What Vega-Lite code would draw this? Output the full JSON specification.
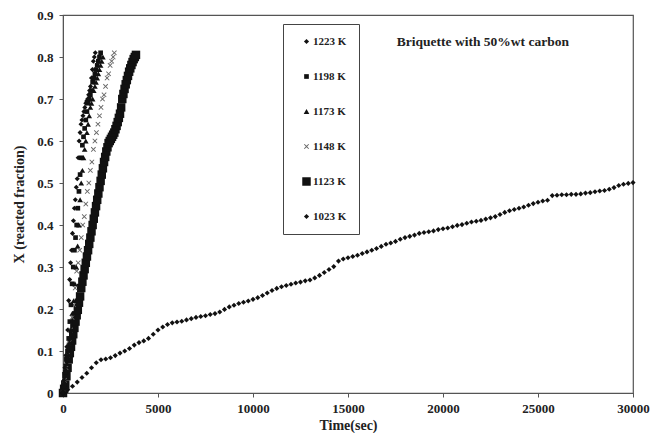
{
  "$schema": "https://vega.github.io/schema/vega-lite/v6.json",
  "autosize": "none",
  "width": 570,
  "height": 378,
  "padding": {"left": 63, "top": 15, "right": 21, "bottom": 40},
  "background": "white",
  "config": {
    "view": {"stroke": "#555", "strokeWidth": 1.2},
    "font": "Liberation Serif",
    "axis": {"grid": false, "domainColor": "#555", "tickColor": "#555", "labelFont": "Liberation Serif", "labelFontWeight": "bold", "labelFontSize": 13, "labelColor": "#222", "titleFont": "Liberation Serif", "titleFontWeight": "bold", "titleFontSize": 14, "titleColor": "#222", "tickSize": 4}
  },
  "datasets": {
    "pts": [
      {"T":"1023 K","t":0,"x":0.000},{"T":"1023 K","t":250,"x":0.008},{"T":"1023 K","t":500,"x":0.016},{"T":"1023 K","t":750,"x":0.026},{"T":"1023 K","t":1000,"x":0.037},{"T":"1023 K","t":1250,"x":0.047},{"T":"1023 K","t":1500,"x":0.060},{"T":"1023 K","t":1750,"x":0.072},{"T":"1023 K","t":2000,"x":0.079},{"T":"1023 K","t":2250,"x":0.081},{"T":"1023 K","t":2500,"x":0.084},{"T":"1023 K","t":2750,"x":0.089},{"T":"1023 K","t":3000,"x":0.095},{"T":"1023 K","t":3250,"x":0.100},{"T":"1023 K","t":3500,"x":0.106},{"T":"1023 K","t":3750,"x":0.114},{"T":"1023 K","t":4000,"x":0.120},{"T":"1023 K","t":4250,"x":0.124},{"T":"1023 K","t":4500,"x":0.130},{"T":"1023 K","t":4750,"x":0.140},{"T":"1023 K","t":5000,"x":0.150},{"T":"1023 K","t":5250,"x":0.157},{"T":"1023 K","t":5500,"x":0.163},{"T":"1023 K","t":5750,"x":0.167},{"T":"1023 K","t":6000,"x":0.169},{"T":"1023 K","t":6250,"x":0.171},{"T":"1023 K","t":6500,"x":0.174},{"T":"1023 K","t":6750,"x":0.177},{"T":"1023 K","t":7000,"x":0.180},{"T":"1023 K","t":7250,"x":0.182},{"T":"1023 K","t":7500,"x":0.184},{"T":"1023 K","t":7750,"x":0.187},{"T":"1023 K","t":8000,"x":0.189},{"T":"1023 K","t":8250,"x":0.193},{"T":"1023 K","t":8500,"x":0.199},{"T":"1023 K","t":8750,"x":0.205},{"T":"1023 K","t":9000,"x":0.209},{"T":"1023 K","t":9250,"x":0.213},{"T":"1023 K","t":9500,"x":0.216},{"T":"1023 K","t":9750,"x":0.219},{"T":"1023 K","t":10000,"x":0.223},{"T":"1023 K","t":10250,"x":0.227},{"T":"1023 K","t":10500,"x":0.232},{"T":"1023 K","t":10750,"x":0.238},{"T":"1023 K","t":11000,"x":0.244},{"T":"1023 K","t":11250,"x":0.249},{"T":"1023 K","t":11500,"x":0.253},{"T":"1023 K","t":11750,"x":0.256},{"T":"1023 K","t":12000,"x":0.259},{"T":"1023 K","t":12250,"x":0.262},{"T":"1023 K","t":12500,"x":0.264},{"T":"1023 K","t":12750,"x":0.267},{"T":"1023 K","t":13000,"x":0.269},{"T":"1023 K","t":13250,"x":0.274},{"T":"1023 K","t":13500,"x":0.280},{"T":"1023 K","t":13750,"x":0.287},{"T":"1023 K","t":14000,"x":0.294},{"T":"1023 K","t":14250,"x":0.301},{"T":"1023 K","t":14500,"x":0.314},{"T":"1023 K","t":14750,"x":0.319},{"T":"1023 K","t":15000,"x":0.322},{"T":"1023 K","t":15250,"x":0.325},{"T":"1023 K","t":15500,"x":0.328},{"T":"1023 K","t":15750,"x":0.332},{"T":"1023 K","t":16000,"x":0.336},{"T":"1023 K","t":16250,"x":0.340},{"T":"1023 K","t":16500,"x":0.344},{"T":"1023 K","t":16750,"x":0.349},{"T":"1023 K","t":17000,"x":0.354},{"T":"1023 K","t":17250,"x":0.357},{"T":"1023 K","t":17500,"x":0.361},{"T":"1023 K","t":17750,"x":0.366},{"T":"1023 K","t":18000,"x":0.370},{"T":"1023 K","t":18250,"x":0.373},{"T":"1023 K","t":18500,"x":0.376},{"T":"1023 K","t":18750,"x":0.380},{"T":"1023 K","t":19000,"x":0.382},{"T":"1023 K","t":19250,"x":0.384},{"T":"1023 K","t":19500,"x":0.386},{"T":"1023 K","t":19750,"x":0.389},{"T":"1023 K","t":20000,"x":0.391},{"T":"1023 K","t":20250,"x":0.393},{"T":"1023 K","t":20500,"x":0.396},{"T":"1023 K","t":20750,"x":0.399},{"T":"1023 K","t":21000,"x":0.401},{"T":"1023 K","t":21250,"x":0.404},{"T":"1023 K","t":21500,"x":0.407},{"T":"1023 K","t":21750,"x":0.409},{"T":"1023 K","t":22000,"x":0.411},{"T":"1023 K","t":22250,"x":0.414},{"T":"1023 K","t":22500,"x":0.417},{"T":"1023 K","t":22750,"x":0.420},{"T":"1023 K","t":23000,"x":0.425},{"T":"1023 K","t":23250,"x":0.430},{"T":"1023 K","t":23500,"x":0.434},{"T":"1023 K","t":23750,"x":0.437},{"T":"1023 K","t":24000,"x":0.440},{"T":"1023 K","t":24250,"x":0.443},{"T":"1023 K","t":24500,"x":0.447},{"T":"1023 K","t":24750,"x":0.451},{"T":"1023 K","t":25000,"x":0.454},{"T":"1023 K","t":25250,"x":0.457},{"T":"1023 K","t":25500,"x":0.459},{"T":"1023 K","t":25750,"x":0.470},{"T":"1023 K","t":26000,"x":0.471},{"T":"1023 K","t":26250,"x":0.472},{"T":"1023 K","t":26500,"x":0.472},{"T":"1023 K","t":26750,"x":0.473},{"T":"1023 K","t":27000,"x":0.473},{"T":"1023 K","t":27250,"x":0.474},{"T":"1023 K","t":27500,"x":0.476},{"T":"1023 K","t":27750,"x":0.477},{"T":"1023 K","t":28000,"x":0.479},{"T":"1023 K","t":28250,"x":0.481},{"T":"1023 K","t":28500,"x":0.482},{"T":"1023 K","t":28750,"x":0.485},{"T":"1023 K","t":29000,"x":0.489},{"T":"1023 K","t":29250,"x":0.494},{"T":"1023 K","t":29500,"x":0.497},{"T":"1023 K","t":29750,"x":0.499},{"T":"1023 K","t":30000,"x":0.501},

      {"T":"1123 K","t":0,"x":0.0},{"T":"1123 K","t":60,"x":0.01},{"T":"1123 K","t":120,"x":0.02},{"T":"1123 K","t":180,"x":0.04},{"T":"1123 K","t":240,"x":0.06},{"T":"1123 K","t":300,"x":0.08},{"T":"1123 K","t":360,"x":0.095},{"T":"1123 K","t":420,"x":0.11},{"T":"1123 K","t":480,"x":0.125},{"T":"1123 K","t":540,"x":0.14},{"T":"1123 K","t":600,"x":0.155},{"T":"1123 K","t":660,"x":0.17},{"T":"1123 K","t":720,"x":0.185},{"T":"1123 K","t":780,"x":0.198},{"T":"1123 K","t":840,"x":0.215},{"T":"1123 K","t":900,"x":0.23},{"T":"1123 K","t":960,"x":0.25},{"T":"1123 K","t":1020,"x":0.265},{"T":"1123 K","t":1080,"x":0.28},{"T":"1123 K","t":1140,"x":0.295},{"T":"1123 K","t":1200,"x":0.31},{"T":"1123 K","t":1260,"x":0.325},{"T":"1123 K","t":1320,"x":0.34},{"T":"1123 K","t":1380,"x":0.355},{"T":"1123 K","t":1440,"x":0.37},{"T":"1123 K","t":1500,"x":0.385},{"T":"1123 K","t":1560,"x":0.40},{"T":"1123 K","t":1620,"x":0.415},{"T":"1123 K","t":1680,"x":0.43},{"T":"1123 K","t":1740,"x":0.445},{"T":"1123 K","t":1800,"x":0.46},{"T":"1123 K","t":1860,"x":0.475},{"T":"1123 K","t":1920,"x":0.49},{"T":"1123 K","t":1980,"x":0.505},{"T":"1123 K","t":2040,"x":0.52},{"T":"1123 K","t":2100,"x":0.535},{"T":"1123 K","t":2160,"x":0.55},{"T":"1123 K","t":2220,"x":0.562},{"T":"1123 K","t":2280,"x":0.575},{"T":"1123 K","t":2340,"x":0.585},{"T":"1123 K","t":2400,"x":0.595},{"T":"1123 K","t":2460,"x":0.60},{"T":"1123 K","t":2520,"x":0.605},{"T":"1123 K","t":2580,"x":0.61},{"T":"1123 K","t":2640,"x":0.615},{"T":"1123 K","t":2700,"x":0.62},{"T":"1123 K","t":2760,"x":0.628},{"T":"1123 K","t":2820,"x":0.636},{"T":"1123 K","t":2880,"x":0.645},{"T":"1123 K","t":2940,"x":0.655},{"T":"1123 K","t":3000,"x":0.665},{"T":"1123 K","t":3060,"x":0.68},{"T":"1123 K","t":3120,"x":0.70},{"T":"1123 K","t":3180,"x":0.712},{"T":"1123 K","t":3240,"x":0.724},{"T":"1123 K","t":3300,"x":0.735},{"T":"1123 K","t":3360,"x":0.745},{"T":"1123 K","t":3420,"x":0.755},{"T":"1123 K","t":3480,"x":0.765},{"T":"1123 K","t":3540,"x":0.773},{"T":"1123 K","t":3600,"x":0.781},{"T":"1123 K","t":3660,"x":0.788},{"T":"1123 K","t":3720,"x":0.795},{"T":"1123 K","t":3780,"x":0.80},{"T":"1123 K","t":3840,"x":0.805},

      {"T":"1148 K","t":0,"x":0},{"T":"1148 K","t":80,"x":0.03},{"T":"1148 K","t":160,"x":0.06},{"T":"1148 K","t":240,"x":0.09},{"T":"1148 K","t":320,"x":0.12},{"T":"1148 K","t":400,"x":0.15},{"T":"1148 K","t":480,"x":0.18},{"T":"1148 K","t":560,"x":0.21},{"T":"1148 K","t":640,"x":0.25},{"T":"1148 K","t":720,"x":0.29},{"T":"1148 K","t":800,"x":0.31},{"T":"1148 K","t":880,"x":0.34},{"T":"1148 K","t":960,"x":0.37},{"T":"1148 K","t":1040,"x":0.40},{"T":"1148 K","t":1120,"x":0.42},{"T":"1148 K","t":1200,"x":0.45},{"T":"1148 K","t":1280,"x":0.48},{"T":"1148 K","t":1360,"x":0.50},{"T":"1148 K","t":1440,"x":0.53},{"T":"1148 K","t":1520,"x":0.55},{"T":"1148 K","t":1600,"x":0.58},{"T":"1148 K","t":1680,"x":0.60},{"T":"1148 K","t":1760,"x":0.62},{"T":"1148 K","t":1840,"x":0.64},{"T":"1148 K","t":1920,"x":0.66},{"T":"1148 K","t":2000,"x":0.68},{"T":"1148 K","t":2080,"x":0.70},{"T":"1148 K","t":2160,"x":0.71},{"T":"1148 K","t":2240,"x":0.73},{"T":"1148 K","t":2320,"x":0.75},{"T":"1148 K","t":2400,"x":0.76},{"T":"1148 K","t":2480,"x":0.78},{"T":"1148 K","t":2560,"x":0.79},{"T":"1148 K","t":2640,"x":0.80},{"T":"1148 K","t":2700,"x":0.81},

      {"T":"1173 K","t":0,"x":0},{"T":"1173 K","t":70,"x":0.02},{"T":"1173 K","t":140,"x":0.05},{"T":"1173 K","t":210,"x":0.07},{"T":"1173 K","t":280,"x":0.09},{"T":"1173 K","t":350,"x":0.12},{"T":"1173 K","t":420,"x":0.15},{"T":"1173 K","t":490,"x":0.19},{"T":"1173 K","t":560,"x":0.22},{"T":"1173 K","t":630,"x":0.26},{"T":"1173 K","t":700,"x":0.30},{"T":"1173 K","t":770,"x":0.35},{"T":"1173 K","t":840,"x":0.40},{"T":"1173 K","t":900,"x":0.46},{"T":"1173 K","t":960,"x":0.50},{"T":"1173 K","t":1020,"x":0.53},{"T":"1173 K","t":1080,"x":0.56},{"T":"1173 K","t":1140,"x":0.58},{"T":"1173 K","t":1200,"x":0.60},{"T":"1173 K","t":1260,"x":0.62},{"T":"1173 K","t":1320,"x":0.64},{"T":"1173 K","t":1380,"x":0.66},{"T":"1173 K","t":1440,"x":0.68},{"T":"1173 K","t":1500,"x":0.69},{"T":"1173 K","t":1560,"x":0.70},{"T":"1173 K","t":1620,"x":0.72},{"T":"1173 K","t":1680,"x":0.73},{"T":"1173 K","t":1740,"x":0.74},{"T":"1173 K","t":1800,"x":0.75},{"T":"1173 K","t":1860,"x":0.76},{"T":"1173 K","t":1920,"x":0.77},{"T":"1173 K","t":1980,"x":0.78},{"T":"1173 K","t":2040,"x":0.79},{"T":"1173 K","t":2100,"x":0.80},

      {"T":"1198 K","t":0,"x":0},{"T":"1198 K","t":60,"x":0.02},{"T":"1198 K","t":120,"x":0.05},{"T":"1198 K","t":180,"x":0.08},{"T":"1198 K","t":240,"x":0.10},{"T":"1198 K","t":300,"x":0.13},{"T":"1198 K","t":360,"x":0.17},{"T":"1198 K","t":420,"x":0.21},{"T":"1198 K","t":480,"x":0.26},{"T":"1198 K","t":540,"x":0.30},{"T":"1198 K","t":600,"x":0.34},{"T":"1198 K","t":660,"x":0.37},{"T":"1198 K","t":720,"x":0.40},{"T":"1198 K","t":780,"x":0.44},{"T":"1198 K","t":840,"x":0.48},{"T":"1198 K","t":900,"x":0.52},{"T":"1198 K","t":960,"x":0.56},{"T":"1198 K","t":1020,"x":0.59},{"T":"1198 K","t":1080,"x":0.61},{"T":"1198 K","t":1140,"x":0.63},{"T":"1198 K","t":1200,"x":0.65},{"T":"1198 K","t":1260,"x":0.67},{"T":"1198 K","t":1320,"x":0.69},{"T":"1198 K","t":1380,"x":0.70},{"T":"1198 K","t":1440,"x":0.71},{"T":"1198 K","t":1500,"x":0.72},{"T":"1198 K","t":1560,"x":0.74},{"T":"1198 K","t":1620,"x":0.75},{"T":"1198 K","t":1680,"x":0.76},{"T":"1198 K","t":1740,"x":0.77},{"T":"1198 K","t":1800,"x":0.78},{"T":"1198 K","t":1860,"x":0.79},{"T":"1198 K","t":1920,"x":0.80},{"T":"1198 K","t":1980,"x":0.81},

      {"T":"1223 K","t":0,"x":0},{"T":"1223 K","t":50,"x":0.03},{"T":"1223 K","t":100,"x":0.06},{"T":"1223 K","t":150,"x":0.09},{"T":"1223 K","t":200,"x":0.11},{"T":"1223 K","t":250,"x":0.15},{"T":"1223 K","t":300,"x":0.22},{"T":"1223 K","t":350,"x":0.27},{"T":"1223 K","t":400,"x":0.31},{"T":"1223 K","t":450,"x":0.34},{"T":"1223 K","t":500,"x":0.38},{"T":"1223 K","t":550,"x":0.41},{"T":"1223 K","t":600,"x":0.44},{"T":"1223 K","t":650,"x":0.46},{"T":"1223 K","t":700,"x":0.49},{"T":"1223 K","t":750,"x":0.51},{"T":"1223 K","t":800,"x":0.56},{"T":"1223 K","t":850,"x":0.60},{"T":"1223 K","t":900,"x":0.62},{"T":"1223 K","t":950,"x":0.64},{"T":"1223 K","t":1000,"x":0.65},{"T":"1223 K","t":1050,"x":0.66},{"T":"1223 K","t":1100,"x":0.67},{"T":"1223 K","t":1150,"x":0.68},{"T":"1223 K","t":1200,"x":0.69},{"T":"1223 K","t":1250,"x":0.695},{"T":"1223 K","t":1300,"x":0.70},{"T":"1223 K","t":1350,"x":0.71},{"T":"1223 K","t":1400,"x":0.72},{"T":"1223 K","t":1450,"x":0.73},{"T":"1223 K","t":1500,"x":0.75},{"T":"1223 K","t":1550,"x":0.77},{"T":"1223 K","t":1600,"x":0.79},{"T":"1223 K","t":1650,"x":0.80},{"T":"1223 K","t":1700,"x":0.81}
    ],
    "note": [{"label": "Briquette with 50%wt carbon"}]
  },
  "layer": [
    {
      "data": {"name": "pts"},
      "mark": {"type": "point", "filled": true, "opacity": 1, "strokeWidth": 0},
      "encoding": {
        "x": {"field": "t", "type": "quantitative", "scale": {"domain": [0, 30000], "nice": false}, "axis": {"title": "Time(sec)", "values": [0,5000,10000,15000,20000,25000,30000], "format": "d", "labelPadding": 5, "titlePadding": 3, "labelFlush": false}},
        "y": {"field": "x", "type": "quantitative", "scale": {"domain": [0, 0.9], "nice": false}, "axis": {"title": "X (reacted fraction)", "values": [0,0.1,0.2,0.3,0.4,0.5,0.6,0.7,0.8,0.9], "format": ".1~f", "labelPadding": 6, "titlePadding": 10, "labelFlush": false}},
        "shape": {"field": "T", "type": "nominal", "scale": {"domain": ["1223 K","1198 K","1173 K","1148 K","1123 K","1023 K"], "range": ["diamond","square","triangle-up","M-1,-0.75L-0.75,-1L0,-0.25L0.75,-1L1,-0.75L0.25,0L1,0.75L0.75,1L0,0.25L-0.75,1L-1,0.75L-0.25,0Z","square","diamond"]},
          "legend": {"title": null, "orient": "none", "legendX": 220, "legendY": 9, "strokeColor": "#444", "padding": 12, "rowPadding": 23, "labelFont": "Liberation Serif", "labelFontWeight": "bold", "labelFontSize": 11, "labelColor": "#222", "symbolStrokeWidth": 0, "labelOffset": 1, "symbolOffset": 6}},
        "size": {"field": "T", "type": "nominal", "scale": {"type": "ordinal", "domain": ["1223 K","1198 K","1173 K","1148 K","1123 K","1023 K"], "range": [26, 22, 32, 26, 72, 26]}},
        "color": {"field": "T", "type": "nominal", "scale": {"domain": ["1223 K","1198 K","1173 K","1148 K","1123 K","1023 K"], "range": ["#111","#111","#111","#666","#111","#111"]}}
      }
    },
    {
      "data": {"name": "note"},
      "mark": {"type": "text", "font": "Liberation Serif", "fontWeight": "bold", "fontSize": 13.5, "color": "#222", "align": "center", "baseline": "middle"},
      "encoding": {
        "x": {"datum": 22100},
        "y": {"datum": 0.836},
        "text": {"field": "label", "type": "nominal"}
      }
    }
  ]
}
